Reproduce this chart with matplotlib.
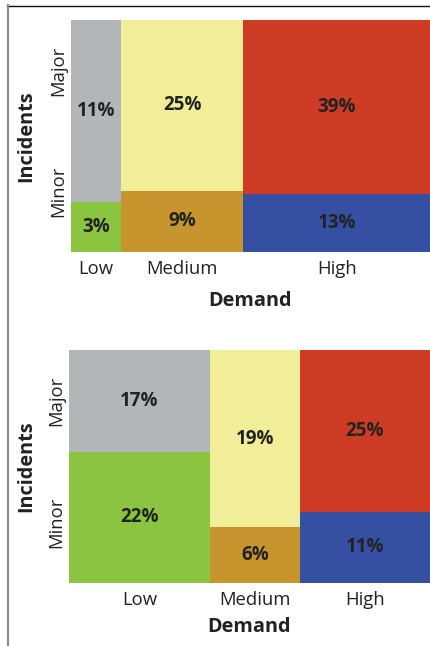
import matplotlib
matplotlib.use("Agg")
import matplotlib.pyplot as plt
from matplotlib.lines import Line2D
from matplotlib.patches import Rectangle

plt.rcParams['font.family'] = ['Open Sans', 'DejaVu Sans']

# Demand levels (columns) and incident severity (stacked within each column)
demand = ['Low', 'Medium', 'High']
incidents = ['Minor', 'Major']

# Share of all cases (%) for the two scenarios
top_minor = [3, 9, 13]
top_major = [11, 25, 39]
bottom_minor = [22, 6, 11]
bottom_major = [17, 19, 25]

minor_colors = ['#8bc441', '#c6952e', '#354fa3']
major_colors = ['#b3b6b9', '#f1ee9a', '#cf3c25']
text_color = '#222222'

W, H = 430, 646
fig = plt.figure(figsize=(W / 100, H / 100), dpi=100)


def mosaic(ax, minor, major, demand_y, ytick_pad):
    totals = [a + b for a, b in zip(minor, major)]
    grand = sum(totals)
    x0 = 0.0
    centers = []
    for i, tot in enumerate(totals):
        w = tot / grand
        h_minor = minor[i] / tot
        ax.add_patch(Rectangle((x0, 0), w, h_minor, facecolor=minor_colors[i],
                               edgecolor='none'))
        ax.add_patch(Rectangle((x0, h_minor), w, 1 - h_minor,
                               facecolor=major_colors[i], edgecolor='none'))
        cx = x0 + w / 2
        centers.append(cx)
        ax.text(cx, h_minor / 2, f'{minor[i]}%', ha='center', va='center',
                fontsize=13.5, fontweight='bold', color=text_color)
        ax.text(cx, h_minor + (1 - h_minor) / 2, f'{major[i]}%', ha='center',
                va='center', fontsize=13.5, fontweight='bold', color=text_color)
        x0 += w
    ax.set_xlim(0, 1)
    ax.set_ylim(0, 1)
    ax.set_xticks(centers, demand, fontsize=13.3, color=text_color)
    ax.set_yticks([0.26, 0.78], incidents, rotation=90, va='center',
                  fontsize=13.3, color=text_color)
    ax.tick_params(length=0)
    ax.tick_params(axis='x', pad=6)
    ax.tick_params(axis='y', pad=ytick_pad)
    for s in ax.spines.values():
        s.set_visible(False)
    ax.text(0.5, demand_y, 'Demand', transform=ax.transAxes, ha='center',
            va='center', fontsize=14.3, fontweight='bold', color=text_color)


# Upper mosaic
ax1 = fig.add_axes([71 / W, 1 - 252 / H, 1 - 71 / W, 232 / H])
mosaic(ax1, top_minor, top_major, -0.211, 3)
ax1.text(-0.125, 0.5, 'Incidents', transform=ax1.transAxes, rotation=90,
         ha='center', va='center', fontsize=14.3, fontweight='bold',
         color=text_color)

# Lower mosaic
ax2 = fig.add_axes([69 / W, 1 - 583 / H, 1 - 69 / W, 233 / H])
mosaic(ax2, bottom_minor, bottom_major, -0.189, 3)
ax2.text(-0.119, 0.5, 'Incidents', transform=ax2.transAxes, rotation=90,
         ha='center', va='center', fontsize=14.3, fontweight='bold',
         color=text_color)

# Page frame: thin rule at the top, grey rule down the left side
fig.add_artist(Line2D([7 / W, 1], [1 - 5.5 / H, 1 - 5.5 / H], color='#111111',
                      linewidth=1.0, transform=fig.transFigure))
fig.add_artist(Line2D([7.5 / W, 7.5 / W], [1 - 5 / H, 0], color='#8a8a8a',
                      linewidth=1.6, transform=fig.transFigure))

fig.savefig('out.png', dpi=100)
